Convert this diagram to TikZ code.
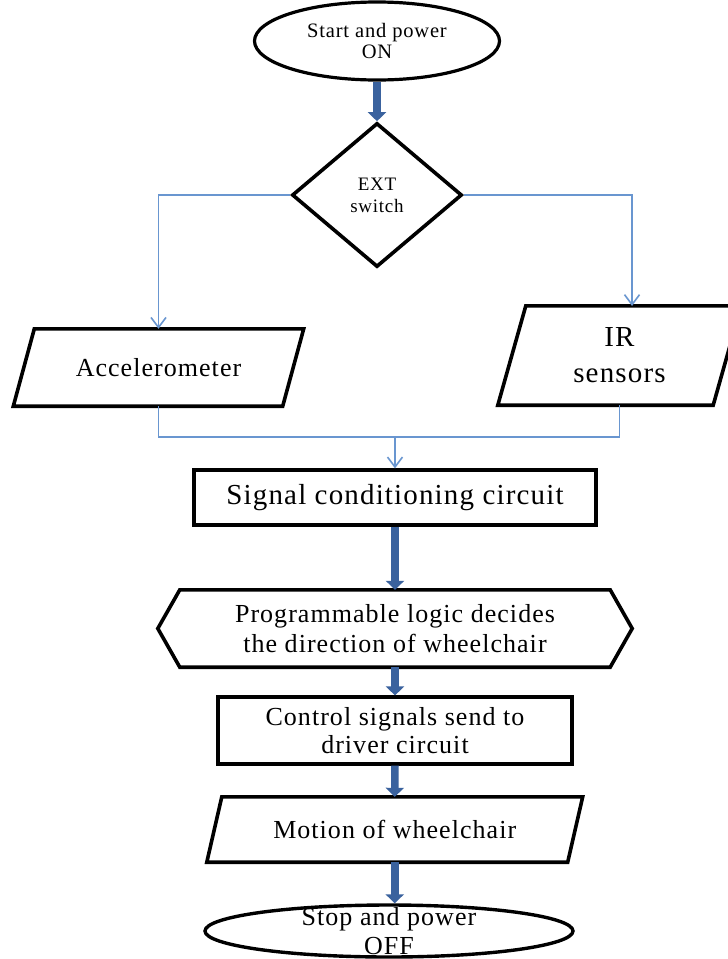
\documentclass[tikz,border=0pt]{standalone}
\usepackage{fontspec}
\setmainfont{Liberation Serif}[LetterSpace=4]
\usetikzlibrary{shapes.geometric,arrows.meta}
\definecolor{thickc}{RGB}{58,98,158}
\definecolor{thinc}{RGB}{105,150,208}
\newcommand{\fs}[2]{\fontsize{#1}{#2}\selectfont}
\begin{document}
\begin{tikzpicture}[x=1pt,y=-1pt,
  box/.style={draw=black,line width=3.2pt,inner sep=0pt,align=center},
  shapeonly/.style={inner sep=0pt,align=center},
  pline/.style={draw=black,line width=3.6pt,line join=miter},
  big/.style={draw=thickc,line width=7.5pt,-{Triangle[width=18pt,length=9pt]}},
  thinarrow/.style={draw=thinc,line width=1.6pt,-{Straight Barb[length=10pt,width=15pt,line width=1.6pt]}},
  thinline/.style={draw=thinc,line width=1.6pt}]
\useasboundingbox[fill=white] (0,0) rectangle (728,959);

% start
\node[box,ellipse,line width=3.2pt,minimum width=245pt,minimum height=78pt,font=\fs{20.5}{21}] (start) at (377,41) {Start and power\\ON};
% decision
\node[box,diamond,line width=3.6pt,minimum width=170pt,minimum height=144pt,font=\fs{19}{22}] (dia) at (377,195) {EXT\\switch};
% accelerometer
\node[shapeonly,minimum width=269pt,minimum height=77pt,font=\fs{26}{30}] (acc) at (158.5,367.5) {Accelerometer};
\draw[pline] ([xshift=10.5pt]acc.north west) -- ([xshift=10.5pt]acc.north east) -- ([xshift=-10.5pt]acc.south east) -- ([xshift=-10.5pt]acc.south west) -- cycle;
% IR sensors
\node[shapeonly,minimum width=215pt,minimum height=99pt,font=\fs{29}{36}] (ir) at (619.5,355.5) {IR\\sensors};
\draw[pline] ([xshift=14pt]ir.north west) -- ([xshift=14pt]ir.north east) -- ([xshift=-14pt]ir.south east) -- ([xshift=-14pt]ir.south west) -- cycle;
% signal conditioning
\node[box,minimum width=402pt,minimum height=55pt,font=\fs{29}{30}] (sig) at (395,497.5) {Signal conditioning circuit};
% programmable logic (hexagon)
\node[shapeonly,minimum width=474pt,minimum height=77pt,font=\fs{26}{30}] (hex) at (395,628.5) {Programmable logic decides\\the direction of wheelchair};
\draw[pline] (hex.west) -- ([xshift=22pt]hex.north west) -- ([xshift=-22pt]hex.north east) -- (hex.east) -- ([xshift=-22pt]hex.south east) -- ([xshift=22pt]hex.south west) -- cycle;
% control signals
\node[box,minimum width=354pt,minimum height=67pt,font=\fs{26}{28}] (ctrl) at (395,730.5) {Control signals send to\\driver circuit};
% motion
\node[shapeonly,minimum width=360.5pt,minimum height=65pt,font=\fs{26}{30}] (mot) at (394.75,829.5) {Motion of wheelchair};
\draw[pline] ([xshift=7.5pt]mot.north west) -- ([xshift=7.5pt]mot.north east) -- ([xshift=-7.5pt]mot.south east) -- ([xshift=-7.5pt]mot.south west) -- cycle;
% stop
\node[box,ellipse,line width=3.4pt,minimum width=368pt,minimum height=52pt,label={[name=stoptext,align=center,inner sep=0pt,font=\fs{26}{29}]center:Stop and power\\OFF}] (stop) at (389,931) {};

% connectors
\coordinate (irin) at (632,306);
\coordinate (join) at (395,437);
\draw[big] (start.south) -- (dia.north);
\draw[thinarrow] (dia.west) -| (acc.north);
\draw[thinarrow] (dia.east) -| (irin);
\draw[thinline] (acc.south) |- (join);
\draw[thinline] (ir.south) |- (join);
\draw[thinarrow] (join) -- (sig.north);
\draw[big] (sig.south) -- (hex.north);
\draw[big] (hex.south) -- (ctrl.north);
\draw[big] (ctrl.south) -- (mot.north);
\draw[big] (mot.south) -- (mot.south |- stop.north);
\end{tikzpicture}
\end{document}
